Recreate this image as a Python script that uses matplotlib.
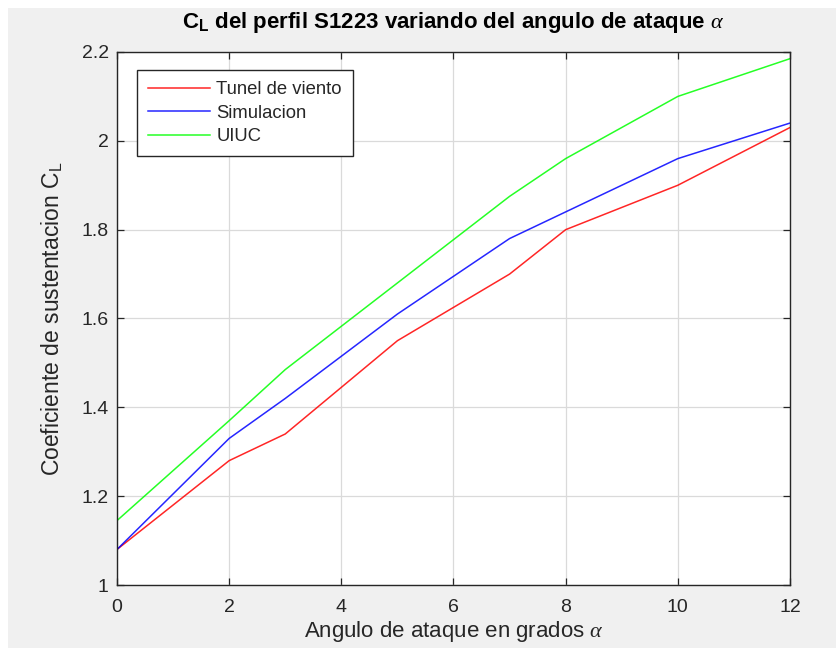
import matplotlib
matplotlib.use("Agg")
import matplotlib.pyplot as plt
from matplotlib.patches import Rectangle

plt.rcParams['font.family'] = ['Liberation Sans', 'DejaVu Sans']
plt.rcParams['mathtext.fontset'] = 'custom'
plt.rcParams['mathtext.rm'] = 'Liberation Sans'
plt.rcParams['mathtext.it'] = 'Liberation Serif:italic'

alpha = [0, 2, 3, 5, 7, 8, 10, 12]
tunel = [1.08, 1.28, 1.34, 1.55, 1.70, 1.80, 1.90, 2.03]
simulacion = [1.08, 1.33, 1.42, 1.61, 1.78, 1.84, 1.96, 2.04]
uiuc = [1.145, 1.37, 1.485, 1.68, 1.875, 1.96, 2.10, 2.185]
labels = ['Tunel de viento', 'Simulacion', 'UIUC']
colors = ['#ff0000', '#0000ff', '#00ff00']
xticks = [0, 2, 4, 6, 8, 10, 12]
yticks = [1, 1.2, 1.4, 1.6, 1.8, 2, 2.2]
ytick_labels = ['1', '1.2', '1.4', '1.6', '1.8', '2', '2.2']

W, H = 837, 648
fig = plt.figure(figsize=(W / 100, H / 100), dpi=100, facecolor='white')
fig.patches.append(Rectangle((8 / W, 0), 1 - 8 / W, 1 - 8 / H, transform=fig.transFigure,
                             facecolor='#f0f0f0', edgecolor='none', zorder=-10))
ax = fig.add_axes([117 / W, 1 - 585 / H, (790 - 117) / W, (585 - 52) / H])
ax.set_facecolor('white')

for ys, lab, c in zip([tunel, simulacion, uiuc], labels, colors):
    ax.plot(alpha, ys, color=c, lw=1.1, label=lab, alpha=0.85)

ax.set_xlim(0, 12)
ax.set_ylim(1, 2.2)
ax.set_xticks(xticks)
ax.set_xticklabels([str(t) for t in xticks])
ax.set_yticks(yticks)
ax.set_yticklabels(ytick_labels)
ax.grid(True, color='#dadada', lw=0.9)
ax.set_axisbelow(True)
ax.tick_params(direction='in', length=5, width=0.9, top=True, right=True,
               colors='#262626', labelsize=14)
ax.tick_params(axis='x', pad=10)
ax.tick_params(axis='y', pad=6)
for s in ax.spines.values():
    s.set_color('#262626')
    s.set_linewidth(1.0)

ax.set_xlabel(r'Angulo de ataque en grados $\alpha$', fontsize=16, color='#262626', labelpad=2)
ax.set_ylabel(r'Coeficiente de sustentacion $\mathregular{C_L}$', fontsize=16.5, color='#262626', labelpad=12)
ax.set_title(r'$\mathregular{C_L}$ del perfil S1223 variando del angulo de ataque $\alpha$',
             fontsize=16, fontweight='bold', color='black', pad=17)

leg = ax.legend(loc='upper left', bbox_to_anchor=(20 / 673, 1 - 18 / 533), fontsize=13.3,
                frameon=True, fancybox=False, edgecolor='#262626', framealpha=1,
                handlelength=3.35, borderpad=0.6, labelspacing=0.35, handletextpad=0.35,
                borderaxespad=0)
leg.get_frame().set_linewidth(1.0)
for t in leg.get_texts():
    t.set_color('#262626')

fig.savefig('out.png', dpi=100, facecolor=fig.get_facecolor())
